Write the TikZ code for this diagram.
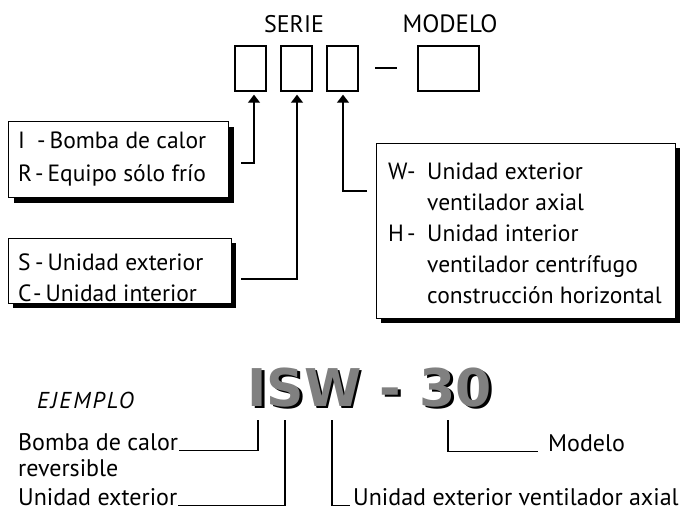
\documentclass[tikz,border=0pt]{standalone}
\usepackage{fontspec}
\setmainfont{PT Sans}
\newfontfamily\bigfont{DejaVu Sans}
\usetikzlibrary{arrows.meta}
\tikzset{
  lbl/.style={inner sep=0pt, font=\fontsize{24}{31}\selectfont},
  smallbox/.style={draw, line width=1.4pt, inner sep=0pt},
  infobox/.style={draw, line width=1.4pt, fill=white, inner sep=0pt, anchor=north west},
  boxtext/.style={inner sep=0pt, align=left, anchor=west, font=\fontsize{23.5}{31}\selectfont},
  conn/.style={line width=1.4pt},
  arr/.style={line width=1.4pt, -{Triangle[width=12pt,length=8pt]}},
  thin/.style={line width=1.2pt},
  isw/.style={inner sep=0pt, font=\bigfont\bfseries\fontsize{52}{60}\selectfont},
}
\begin{document}
\begin{tikzpicture}[x=1pt,y=-1pt]
\useasboundingbox (0,0) rectangle (680,512);
% headings
\node[lbl] (serie) at (294,24) {SERIE};
\node[lbl, font=\fontsize{25}{31}\selectfont] (modelo) at (450,24) {MODELO};
% small boxes
\node[smallbox, minimum width=31pt, minimum height=45pt] (b1) at (250.5,68.5) {};
\node[smallbox, minimum width=31pt, minimum height=45pt] (b2) at (296.5,68.5) {};
\node[smallbox, minimum width=31pt, minimum height=45pt] (b3) at (342.5,68.5) {};
\node[smallbox, minimum width=61pt, minimum height=45pt] (bm) at (448.5,68.5) {};
\coordinate (d1) at (375,68);
\coordinate (d2) at (397,68);
\draw[conn] (d1) -- (d2);
% info boxes with shadows
\fill (14,127) rectangle (234,203);
\node[infobox, minimum width=220pt, minimum height=76pt] (i1) at (8,121) {};
\node[boxtext, font=\fontsize{23.5}{33}\selectfont] (t1) at (18,159) {\makebox[19pt][l]{I}-\,Bomba de calor\\\makebox[17pt][l]{R}-\,Equipo sólo frío};
\fill (13,243) rectangle (236,308);
\node[infobox, minimum width=223pt, minimum height=65pt] (i2) at (8,238) {};
\node[boxtext] (t2) at (18,278) {\makebox[17pt][l]{S}-\,Unidad exterior\\\makebox[15pt][l]{C}-\,Unidad interior};
\fill (381,148) rectangle (680,323);
\node[infobox, minimum width=299pt, minimum height=175pt] (i3) at (376,143) {};
\node[boxtext] (t3) at (388,233) {%
\makebox[39pt][l]{W-}Unidad exterior\\
\hspace*{39pt}ventilador axial\\
\makebox[39pt][l]{\makebox[19pt][l]{H}-}Unidad interior\\
\hspace*{39pt}ventilador centrífugo\\
\hspace*{39pt}construcción horizontal};
% arrows
\coordinate (a1) at (241,163);
\coordinate (a2) at (241,279);
\coordinate (a3) at (367,191);
\draw[arr] (a1) -| ([xshift=3.5pt,yshift=-3pt]b1.south);
\draw[arr] (a2) -| ([xshift=0.5pt,yshift=-3pt]b2.south);
\draw[arr] (a3) -| ([xshift=0.5pt,yshift=-3pt]b3.south);
% example
\node[lbl, font=\fontsize{23}{24}\itshape\addfontfeature{LetterSpace=9}, anchor=west] (ej) at (37,400) {EJEMPLO};
\node[isw] (isw) at (369.75,388.75) {\rlap{\hspace{2.5pt}\raisebox{-2.5pt}{\color{black}ISW - 30}}\color{gray}ISW - 30};
\node[lbl, anchor=west] (l1) at (18,442) {Bomba de calor};
\node[lbl, anchor=west] (l1b) at (18,468) {reversible};
\node[lbl, anchor=west] (l2) at (18,497) {Unidad exterior};
\node[lbl, anchor=west] (l3) at (353,497) {Unidad exterior ventilador axial};
\node[lbl, anchor=west] (l4) at (548,443) {Modelo};
\coordinate (p1) at (258,420);
\coordinate (p2) at (285,420);
\coordinate (p3) at (332,420);
\coordinate (p4) at (448,420);
\draw[thin] ([xshift=1pt]l1.base east) -| (p1);
\draw[thin] ([xshift=1pt]l2.base east) -| (p2);
\draw[thin] (p3) |- ([xshift=-3pt]l3.base west);
\draw[thin] (p4) |- ([xshift=-10pt]l4.base west);
\end{tikzpicture}
\end{document}
